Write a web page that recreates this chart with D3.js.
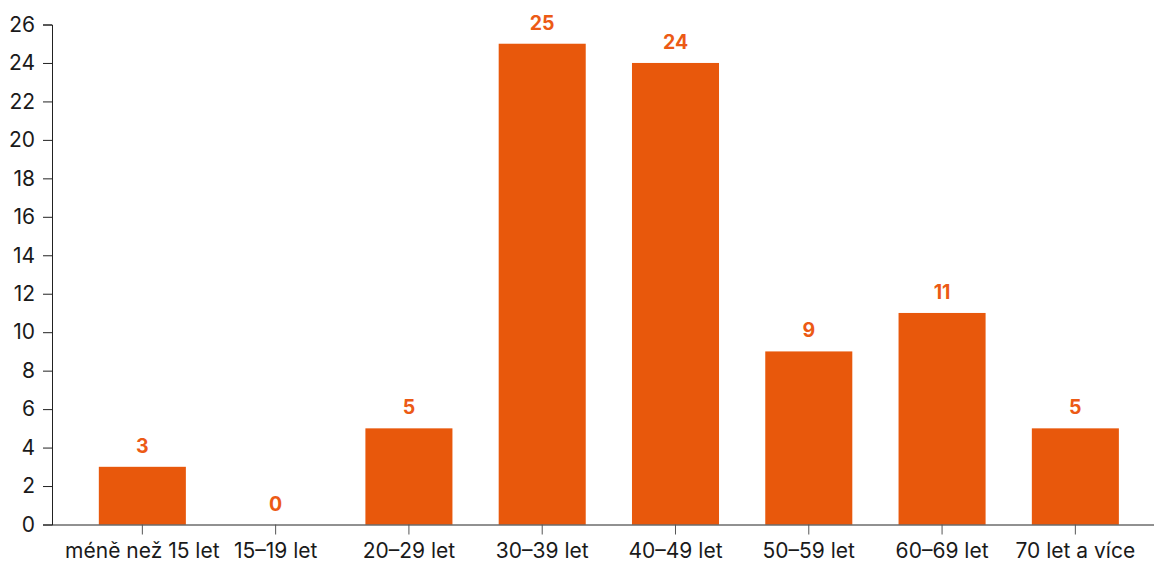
<!DOCTYPE html>
<html>
<head>
<meta charset="utf-8">
<script src="https://cdn.jsdelivr.net/npm/d3@7"></script>
<style>
  body { margin: 0; background: #fff; }
  svg { display: block; font-family: Inter, "Noto Sans", sans-serif; }
  .axis { font-family: Inter, "Noto Sans", sans-serif; }
  .axis text { font-size: 21px; fill: #1a1a1a; }
  .axis path { stroke: #222; }
  .value { font-size: 19.5px; font-weight: 700; fill: #ec5a15; text-anchor: middle; }
</style>
</head>
<body>
<div id="chart"></div>
<script>
// age groups and counts
const categories = ["méně než 15 let", "15–19 let", "20–29 let", "30–39 let", "40–49 let", "50–59 let", "60–69 let", "70 let a více"];
const values = [3, 0, 5, 25, 24, 9, 11, 5];
const yTicks = [0, 2, 4, 6, 8, 10, 12, 14, 16, 18, 20, 22, 24, 26];

const width = 1154, height = 566;
const svg = d3.select("#chart").append("svg")
    .attr("width", width)
    .attr("height", height);

let x = d3.scaleBand()
    .domain(categories)
    .range([75.7, 1142])
    .paddingInner(0.347)
    .paddingOuter(0.1735);

let y = d3.scaleLinear()
    .domain([0, 26])
    .range([524.5, 24.5]);

// y axis
let yAxis = svg.append("g")
    .attr("class", "axis")
    .attr("transform", "translate(52,0)")
    .call(d3.axisLeft(y).tickValues(yTicks).tickSize(9).tickPadding(8));
yAxis.selectAll(".tick line").attr("stroke", "#222");

// bars
svg.selectAll("rect.bar")
    .data(values)
    .enter()
    .append("rect")
    .attr("class", "bar")
    .attr("x", (d, i) => x(categories[i]))
    .attr("y", d => y(d))
    .attr("width", x.bandwidth())
    .attr("height", d => y(0) - y(d))
    .attr("fill", "#e8580c");

// x axis
let xAxis = svg.append("g")
    .attr("class", "axis")
    .attr("transform", "translate(0," + y(0) + ")")
    .call(d3.axisBottom(x).tickSize(10).tickPadding(9).tickSizeOuter(0));
xAxis.select(".domain").attr("d", "M52,0.5H" + width);
xAxis.selectAll(".tick line").attr("stroke", "#555");

// value labels
svg.selectAll("text.value")
    .data(values)
    .enter()
    .append("text")
    .attr("class", "value")
    .attr("x", (d, i) => x(categories[i]) + x.bandwidth() / 2)
    .attr("y", d => y(d) - 14)
    .text(d => d);
</script>
</body>
</html>
